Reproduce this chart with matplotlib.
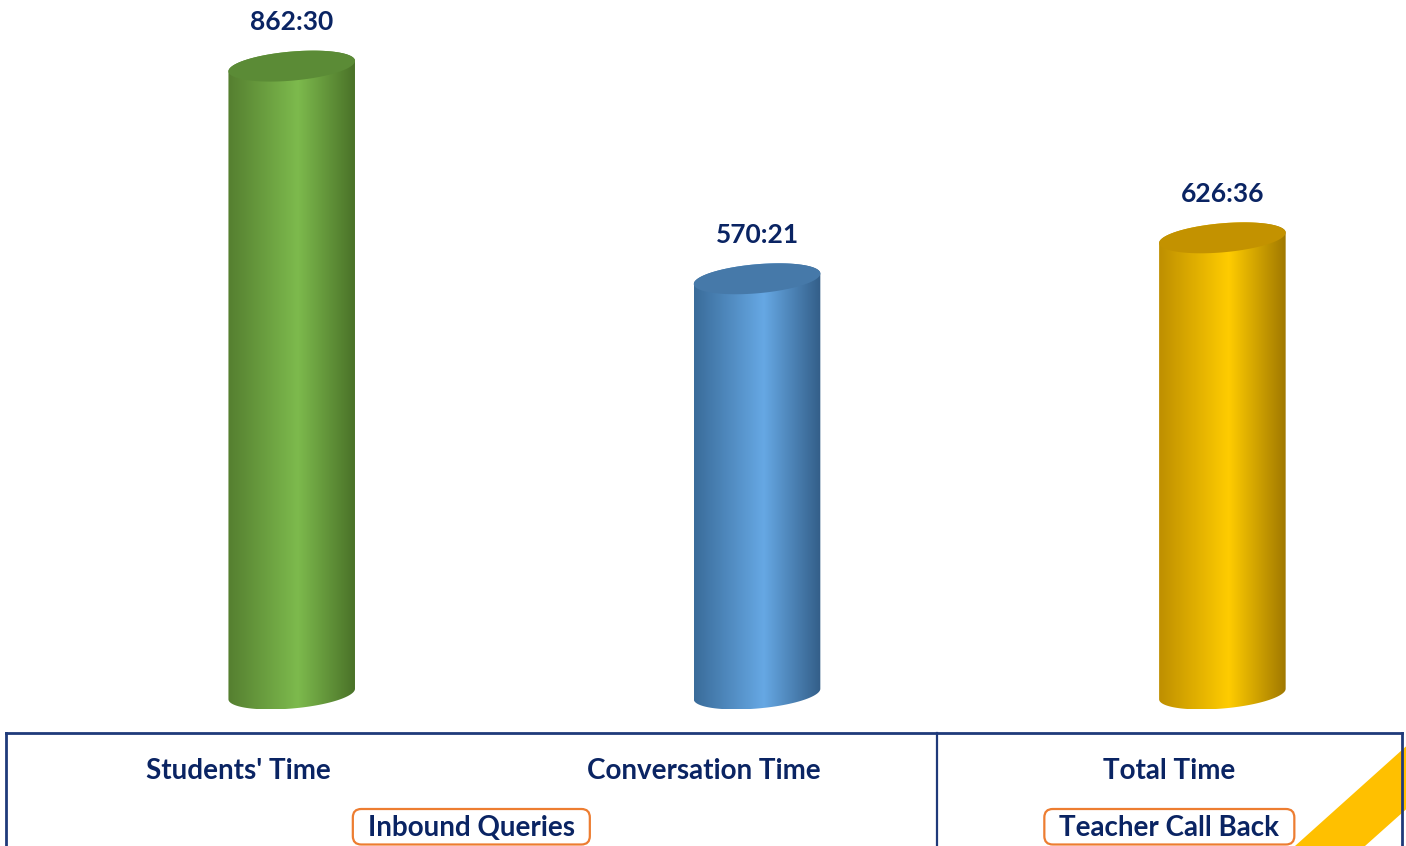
import numpy as np
import matplotlib
matplotlib.use("Agg")
import matplotlib.pyplot as plt
import matplotlib.transforms as mtransforms
from matplotlib.patches import Polygon, FancyBboxPatch
from matplotlib.colors import LinearSegmentedColormap
from matplotlib.lines import Line2D

# ---------------- data ----------------
categories = ["Students' Time", "Conversation Time", "Total Time"]
time_labels = ["862:30", "570:21", "626:36"]
groups = ["Inbound Queries", "Teacher Call Back"]
group_spans = [(0, 1), (2, 2)]

values = [int(s.split(":")[0]) + int(s.split(":")[1]) / 60 for s in time_labels]

# ---------------- style ----------------
body_colors = [
    ("#557F30", "#7DBA4D", "#4A7228"),
    ("#3A6C9A", "#66A8E4", "#335E88"),
    ("#BE8F00", "#FFCC00", "#A07800"),
]
top_colors = ["#5B8B36", "#4679A9", "#C39200"]
navy = "#0A2463"
border = "#1F3A7A"
orange = "#ED7D31"
stripe = "#FFC000"

plt.rcParams['font.family'] = ['Lato', 'DejaVu Sans']

W, H = 1406, 846
fig = plt.figure(figsize=(W / 100, H / 100), dpi=100)
fig.patch.set_facecolor("white")

ax = fig.add_axes([6 / W, 113 / H, 1396 / W, 733 / H])
ax.set_xlim(-0.5, 2.5)
ax.set_ylim(-53.6, 953.3)
ax.axis("off")

bar_offset = 0.114
half_w_px = 63.5
half_h_px = 14.5
theta = np.deg2rad(5.0)

t = np.linspace(0, 2 * np.pi, 721)[:-1]
ex = half_w_px * np.cos(t) * np.cos(theta) - half_h_px * np.sin(t) * np.sin(theta)
ey = half_w_px * np.cos(t) * np.sin(theta) + half_h_px * np.sin(t) * np.cos(theta)
N = len(t)
imin, imax = int(np.argmin(ex)), int(np.argmax(ex))
order = (np.arange(N) + imin) % N
k = int(np.where(order == imax)[0][0])
lower = order[:k + 1]
upper = np.concatenate([order[k:], [imin]])

inv = ax.transData.inverted()

for i, v in enumerate(values):
    xc = i + bar_offset
    bx, by = ax.transData.transform((xc, 0))
    tx, ty = ax.transData.transform((xc, v))
    pts = np.vstack([
        np.column_stack([bx + ex[lower], by + ey[lower]]),
        np.column_stack([tx + ex[upper], ty + ey[upper]]),
    ])
    dpts = inv.transform(pts)
    body = Polygon(dpts, closed=True, fc="none", ec="none", zorder=2)
    ax.add_patch(body)
    cmap = LinearSegmentedColormap.from_list(
        f"c{i}", [(0, body_colors[i][0]), (0.55, body_colors[i][1]), (1, body_colors[i][2])])
    grad = np.linspace(0, 1, 256).reshape(1, -1)
    x0, x1 = dpts[:, 0].min(), dpts[:, 0].max()
    y0, y1 = dpts[:, 1].min(), dpts[:, 1].max()
    im = ax.imshow(grad, cmap=cmap, extent=[x0, x1, y0, y1], aspect="auto",
                   interpolation="bicubic", zorder=2)
    im.set_clip_path(body)
    top = inv.transform(np.column_stack([tx + ex, ty + ey]))
    ax.add_patch(Polygon(top, closed=True, fc=top_colors[i], ec="none", zorder=3))
    # value label
    lx, ly = inv.transform((tx, ty + 44))
    ax.text(lx, ly, time_labels[i], ha="center", va="center", fontsize=19,
            fontweight="bold", color=navy, zorder=4)

ax.set_xlim(-0.5, 2.5)
ax.set_ylim(-53.6, 953.3)

# ---------------- table area ----------------
bt = mtransforms.blended_transform_factory(ax.transData, fig.transFigure)

# stripe in corner
fig.patches.append(Polygon([(1295 / W, 0), (1406 / W, 1 - 746.4 / H),
                            (1406 / W, 1 - 809.4 / H), (1365 / W, 0)],
                           closed=True, fc=stripe, ec="none",
                           transform=fig.transFigure, figure=fig, zorder=1))

y_top = 1 - 733 / H
lines = [
    ([6 / W, 1402 / W], [y_top, y_top]),
    ([6 / W, 6 / W], [y_top, 0]),
    ([1402 / W, 1402 / W], [y_top, 0]),
]
for xs, ys in lines:
    fig.add_artist(Line2D(xs, ys, transform=fig.transFigure, color=border, lw=2, zorder=5))
fig.add_artist(Line2D([1.5, 1.5], [y_top, 0], transform=bt, color=border, lw=1.6, zorder=5))

for i, c in enumerate(categories):
    fig.text(i, 1 - 771 / H, c, transform=bt, ha="center", va="center",
             fontsize=20, fontweight="bold", color=navy)

group_texts = []
for g, (a, b) in zip(groups, group_spans):
    gt = fig.text((a + b) / 2, 1 - 828 / H, g, transform=bt, ha="center", va="center",
                  fontsize=20, fontweight="bold", color=navy, zorder=6)
    group_texts.append(gt)

fig.canvas.draw()
renderer = fig.canvas.get_renderer()
for gt in group_texts:
    bb = gt.get_window_extent(renderer)
    pad_x = 15
    x0 = bb.x0 - pad_x
    w = bb.width + 2 * pad_x
    y1 = H - 809
    y0 = 1.5
    box = FancyBboxPatch((x0 / W, y0 / H), w / W, (y1 - y0) / H,
                         boxstyle="round,pad=0,rounding_size=0.006",
                         transform=fig.transFigure, fc="white", ec=orange, lw=1.6,
                         zorder=5, mutation_aspect=W / H)
    fig.patches.append(box)

fig.savefig("out.png", dpi=100, facecolor="white")
